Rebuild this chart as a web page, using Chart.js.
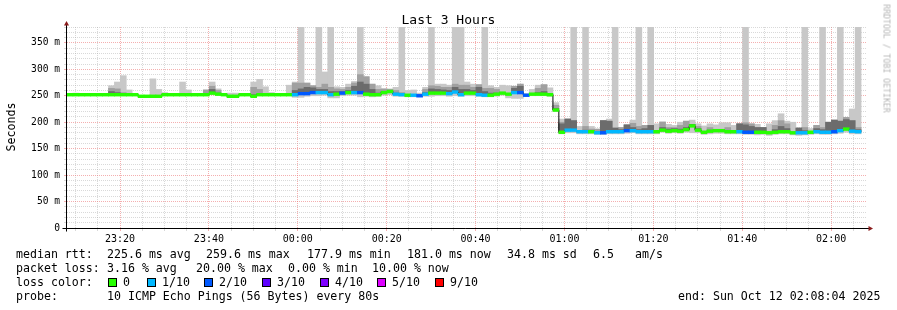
<!DOCTYPE html>
<html>
<head>
<meta charset="utf-8">
<title>Last 3 Hours</title>
<script src="https://cdn.jsdelivr.net/npm/chart.js@4.4.1/dist/chart.umd.min.js"></script>
<style>
  body { margin: 0; background: #fff; }
  #wrap { position: relative; width: 897px; height: 310px; overflow: hidden;
          font-family: "DejaVu Sans Mono", monospace; color: #000; }
  #chart { position: absolute; left: 0; top: 0; }
  .t { position: absolute; white-space: pre; font-size: 11.6px; line-height: 14px; }
  .box { position: absolute; width: 7px; height: 7px; border: 1px solid #000; }
  #title { position: absolute; left: 0; width: 897px; top: 12px; text-align: center;
           font-size: 13px; line-height: 15px; }
  #ylabel { position: absolute; left: -29px; top: 120px; width: 80px; text-align: center;
            font-size: 11.6px; line-height: 14px; transform: rotate(-90deg); }
  #credit { position: absolute; left: 826px; top: 54px; width: 120px; text-align: center;
            font-size: 8.2px; line-height: 9px; color: #b4b4b4; transform: rotate(90deg); }
</style>
</head>
<body>
<div id="wrap">
  <canvas id="chart" width="897" height="310"></canvas>
  <div id="title">Last 3 Hours</div>
  <div id="ylabel">Seconds</div>
  <div id="credit">RRDTOOL / TOBI OETIKER</div>

  <div class="t" style="left:16px;top:247px">median rtt:</div>
  <div class="t" style="left:107px;top:247px">225.6 ms avg</div>
  <div class="t" style="left:206px;top:247px">259.6 ms max</div>
  <div class="t" style="left:307px;top:247px">177.9 ms min</div>
  <div class="t" style="left:407px;top:247px">181.0 ms now</div>
  <div class="t" style="left:507px;top:247px">34.8 ms sd</div>
  <div class="t" style="left:593px;top:247px">6.5</div>
  <div class="t" style="left:635px;top:247px">am/s</div>

  <div class="t" style="left:16px;top:261px">packet loss:</div>
  <div class="t" style="left:107px;top:261px">3.16 % avg</div>
  <div class="t" style="left:196px;top:261px">20.00 % max</div>
  <div class="t" style="left:288px;top:261px">0.00 % min</div>
  <div class="t" style="left:372px;top:261px">10.00 % now</div>

  <div class="t" style="left:16px;top:275px">loss color:</div>
  <div id="legend"></div>

  <div class="t" style="left:16px;top:289px">probe:</div>
  <div class="t" style="left:107px;top:289px">10 ICMP Echo Pings (56 Bytes) every 80s</div>
  <div class="t" style="left:678px;top:289px">end: Sun Oct 12 02:08:04 2025</div>
</div>

<script>
(function () {
  'use strict';

  // Time base: x axis is minutes after 23:00, first sample 23:08:04, one step per 80 s
  var startMin = 8 + 4 / 60;
  var stepMin = 80 / 60;
  var spanMin = 180;

  // Median RTT per step (ms)
  var medianRtt = [
    252, 252, 252, 252, 252, 252, 252, 252, 252, 252,
    252, 252, 249, 249, 249, 249, 252, 252, 252, 252,
    252, 252, 252, 252, 255, 253, 252, 249, 249, 252,
    252, 249, 252, 252, 252, 252, 252, 252, 252, 254,
    254, 256, 256, 256, 252, 253, 255, 256, 256, 256,
    253, 252, 252, 256, 258, 253, 252, 251, 251, 250,
    253, 255, 255, 255, 254, 257, 252, 255, 255, 252,
    251, 251, 253, 255, 253, 256, 256, 251, 253, 253,
    253, 252, 223, 181, 185, 185, 182, 182, 182, 180,
    180, 182, 182, 182, 184, 184, 182, 182, 182, 182,
    185, 183, 184, 183, 186, 193, 185, 181, 183, 184,
    184, 182, 182, 182, 181, 181, 181, 181, 180, 181,
    182, 182, 180, 180, 180, 181, 182, 181, 181, 182,
    184, 187, 183, 182
  ];

  // Lost pings out of 10 per step
  var lossCount = [
    0, 0, 0, 0, 0, 0, 0, 0, 0, 0,
    0, 0, 0, 0, 0, 0, 0, 0, 0, 0,
    0, 0, 0, 0, 0, 0, 0, 0, 0, 0,
    0, 0, 0, 0, 0, 0, 0, 0, 1, 2,
    2, 2, 1, 1, 1, 0, 2, 0, 1, 2,
    0, 0, 0, 0, 0, 1, 1, 0, 1, 2,
    1, 0, 0, 0, 1, 1, 1, 0, 0, 1,
    1, 0, 0, 0, 0, 1, 2, 2, 0, 0,
    0, 0, 0, 0, 1, 1, 1, 1, 0, 1,
    2, 1, 1, 1, 2, 1, 1, 1, 1, 0,
    0, 0, 0, 0, 0, 0, 0, 0, 0, 0,
    0, 0, 0, 1, 2, 2, 0, 0, 0, 0,
    0, 0, 0, 1, 1, 0, 1, 1, 1, 2,
    1, 0, 1, 1
  ];

  // Smoke: lowest ping, and tops of the dark, mid and light bands (ms)
  var smokeLo = [
    251, 251, 251, 251, 251, 251, 251, 251, 251, 251,
    251, 251, 248, 248, 248, 248, 251, 251, 251, 251,
    251, 251, 251, 251, 252, 251, 251, 248, 248, 251,
    251, 248, 251, 251, 251, 251, 251, 251, 247, 247,
    249, 250, 250, 251, 246, 246, 250, 251, 251, 248,
    249, 248, 249, 251, 252, 249, 249, 248, 248, 248,
    249, 249, 250, 250, 249, 250, 249, 250, 250, 249,
    248, 248, 249, 251, 246, 245, 245, 249, 250, 250,
    250, 249, 220, 178, 180, 180, 178, 178, 178, 177,
    177, 178, 178, 178, 179, 180, 178, 178, 178, 178,
    181, 179, 180, 179, 181, 180, 180, 177, 178, 179,
    179, 178, 178, 178, 177, 177, 176, 177, 175, 177,
    178, 178, 176, 175, 176, 177, 178, 177, 177, 178,
    179, 181, 178, 178
  ];

  var smokeDark = [
    252, 252, 252, 252, 252, 252, 252, 258, 256, 252,
    252, 252, 249, 249, 249, 249, 252, 252, 252, 252,
    252, 252, 252, 252, 262, 255, 252, 249, 249, 252,
    252, 252, 252, 252, 252, 252, 252, 252, 260, 263,
    266, 265, 262, 262, 258, 258, 258, 260, 268, 276,
    272, 262, 255, 258, 258, 255, 252, 251, 251, 250,
    256, 263, 262, 261, 260, 266, 262, 262, 260, 266,
    258, 255, 255, 255, 253, 264, 268, 251, 253, 256,
    258, 252, 226, 197, 206, 203, 182, 185, 182, 182,
    203, 202, 189, 186, 195, 190, 186, 188, 194, 182,
    190, 187, 188, 187, 190, 196, 188, 181, 185, 184,
    184, 184, 182, 197, 195, 192, 190, 190, 180, 186,
    192, 188, 180, 189, 184, 181, 188, 186, 200, 204,
    202, 205, 203, 186
  ];

  var smokeMid = [
    252, 252, 252, 252, 252, 252, 252, 264, 263, 256,
    252, 252, 249, 249, 249, 249, 252, 252, 252, 252,
    252, 252, 252, 261, 268, 260, 252, 249, 249, 252,
    252, 266, 262, 252, 252, 252, 252, 252, 274, 274,
    274, 269, 266, 272, 266, 263, 262, 266, 274, 290,
    286, 272, 262, 263, 262, 260, 256, 251, 251, 250,
    262, 269, 268, 266, 266, 272, 270, 270, 266, 271,
    264, 264, 262, 255, 253, 268, 272, 251, 253, 264,
    271, 252, 232, 200, 206, 203, 182, 192, 187, 187,
    203, 202, 189, 190, 195, 198, 192, 194, 194, 182,
    200, 190, 190, 194, 202, 196, 192, 181, 190, 184,
    184, 190, 182, 197, 199, 197, 190, 190, 180, 194,
    203, 197, 180, 189, 190, 181, 194, 190, 200, 204,
    202, 209, 203, 190
  ];

  var smokeLight = [
    252, 255, 252, 252, 252, 252, 252, 269, 276, 288,
    261, 252, 249, 249, 282, 262, 256, 252, 252, 276,
    261, 252, 252, 261, 276, 263, 252, 255, 255, 252,
    252, 276, 281, 267, 256, 252, 252, 270, 276, 380,
    274, 269, 380, 295, 380, 267, 266, 272, 277, 380,
    286, 272, 269, 263, 263, 266, 380, 260, 261, 255,
    266, 380, 272, 272, 270, 380, 380, 276, 272, 271,
    380, 269, 266, 270, 269, 268, 272, 254, 262, 270,
    271, 265, 237, 206, 206, 380, 192, 380, 192, 187,
    203, 206, 380, 190, 195, 204, 380, 194, 380, 197,
    201, 196, 194, 200, 202, 204, 197, 193, 197, 195,
    199, 199, 194, 197, 380, 197, 196, 190, 197, 203,
    216, 202, 200, 189, 380, 188, 194, 380, 200, 204,
    380, 209, 225, 380
  ];

  var lossLevels = [0, 1, 2, 3, 4, 5, 9];
  var lossLabels = ['0', '1/10', '2/10', '3/10', '4/10', '5/10', '9/10'];
  var lossColors = ['#26ff00', '#00b8ff', '#0059ff', '#5e00ff', '#7e00ff', '#dd00ff', '#ff0000'];

  var yTickLabels = { 0: '0', 50: '50 m', 100: '100 m', 150: '150 m', 200: '200 m',
    250: '250 m', 300: '300 m', 350: '350 m' };

  var majorGrid = 'rgba(235, 110, 110, 0.55)';
  var minorGrid = 'rgba(165, 165, 165, 0.42)';

  function stepMid(i) { return startMin + (i + 0.5) * stepMin; }
  function stepStart(i) { return startMin + i * stepMin; }

  function colorForLoss(n) {
    var k = lossLevels.indexOf(n);
    return k >= 0 ? lossColors[k] : lossColors[lossColors.length - 1];
  }

  function floating(lo, hi) {
    return lo.map(function (v, i) { return { x: stepMid(i), y: [v, hi[i]] }; });
  }

  function pad2(n) { return (n < 10 ? '0' : '') + n; }

  function clockLabel(v) {
    if (Math.round(v) % 20 !== 0) return '';
    var h = (23 + Math.floor(v / 60)) % 24;
    return pad2(h) + ':' + pad2(Math.round(v) % 60);
  }

  // loss colour legend
  var legend = document.getElementById('legend');
  var boxX = [108, 147, 204, 262, 320, 377, 435];
  lossLabels.forEach(function (lab, k) {
    var b = document.createElement('div');
    b.className = 'box';
    b.style.left = boxX[k] + 'px';
    b.style.top = '278px';
    b.style.background = lossColors[k];
    legend.appendChild(b);
    var t = document.createElement('div');
    t.className = 't';
    t.style.left = (boxX[k] + 15) + 'px';
    t.style.top = '275px';
    t.textContent = lab;
    legend.appendChild(t);
  });

  var xTicks = [];
  for (var m = 10; m < startMin + spanMin; m += 5) xTicks.push(m);

  // median drawn as a thin black step line with loss-coloured pieces on top;
  // each step's value holds until the next step starts
  var medianBand = medianRtt.map(function (v, i) { return { x: stepMid(i), y: [v - 2.6, v + 2.6] }; });
  var medianSteps = medianRtt.map(function (v, i) { return { x: stepStart(i), y: v }; });
  medianSteps.push({ x: stepStart(medianRtt.length), y: medianRtt[medianRtt.length - 1] });

  function barSet(data, color, order) {
    return {
      type: 'bar', data: data, backgroundColor: color, borderWidth: 0,
      barPercentage: 1, categoryPercentage: 1, grouped: false, order: order
    };
  }

  // axis lines with the small arrow heads
  var axisArrows = {
    id: 'axisArrows',
    afterDraw: function (chart) {
      var a = chart.chartArea, ctx = chart.ctx;
      var x0 = Math.round(a.left) - 0.5, y0 = Math.round(a.bottom) + 0.5;
      ctx.save();
      ctx.strokeStyle = '#000';
      ctx.lineWidth = 1;
      ctx.beginPath();
      ctx.moveTo(x0, a.top - 3);
      ctx.lineTo(x0, y0 + 3);
      ctx.moveTo(x0 - 4, y0);
      ctx.lineTo(a.right + 2, y0);
      ctx.stroke();
      ctx.fillStyle = '#8b1c1c';
      ctx.beginPath();
      ctx.moveTo(x0, a.top - 6);
      ctx.lineTo(x0 - 2.5, a.top - 1.5);
      ctx.lineTo(x0 + 2.5, a.top - 1.5);
      ctx.closePath();
      ctx.fill();
      ctx.beginPath();
      ctx.moveTo(a.right + 6, y0);
      ctx.lineTo(a.right + 1.5, y0 - 2.5);
      ctx.lineTo(a.right + 1.5, y0 + 2.5);
      ctx.closePath();
      ctx.fill();
      ctx.restore();
    }
  };

  function gridColor(ctx, every) {
    var v = ctx.tick ? Math.round(ctx.tick.value) : 0;
    return v % every === 0 ? majorGrid : minorGrid;
  }

  new Chart(document.getElementById('chart').getContext('2d'), {
    type: 'bar',
    data: {
      datasets: [
        barSet(floating(smokeLo, smokeLight), '#c8c8c8', 5),
        barSet(floating(medianRtt, smokeMid), '#a0a0a0', 4),
        barSet(floating(medianRtt, smokeDark), '#6c6c6c', 3),
        {
          type: 'line', data: medianSteps, borderColor: '#000', borderWidth: 1,
          pointRadius: 0, stepped: 'before', fill: false, order: 2
        },
        barSet(medianBand, lossCount.map(colorForLoss), 1)
      ]
    },
    options: {
      responsive: false,
      animation: false,
      devicePixelRatio: 1,
      layout: { padding: { top: 27, right: 30, left: 0, bottom: 0 } },
      plugins: { legend: { display: false }, tooltip: { enabled: false }, title: { display: false } },
      scales: {
        x: {
          type: 'linear', min: startMin, max: startMin + spanMin, offset: false,
          afterFit: function (s) { s.height = 82; },
          afterBuildTicks: function (s) { s.ticks = xTicks.map(function (v) { return { value: v }; }); },
          ticks: {
            autoSkip: false, maxRotation: 0, padding: 2, color: '#000',
            font: { family: 'DejaVu Sans Mono', size: 10 },
            callback: function (v) { return clockLabel(v); }
          },
          grid: {
            offset: false, tickLength: 3,
            color: function (c) { return gridColor(c, 20); },
            tickColor: function (c) { return gridColor(c, 20); }
          },
          border: { display: false, dash: [1, 1] }
        },
        y: {
          type: 'linear', min: 0, max: 380,
          afterFit: function (s) { s.width = 67; },
          ticks: {
            stepSize: 10, autoSkip: false, padding: 4, color: '#000',
            font: { family: 'DejaVu Sans Mono', size: 9.6 },
            callback: function (v) { return yTickLabels[v] || ''; }
          },
          grid: {
            tickLength: 3,
            color: function (c) { return gridColor(c, 50); },
            tickColor: function (c) { return gridColor(c, 50); }
          },
          border: { display: false, dash: [1, 1] }
        }
      }
    },
    plugins: [axisArrows]
  });
})();
</script>
</body>
</html>
